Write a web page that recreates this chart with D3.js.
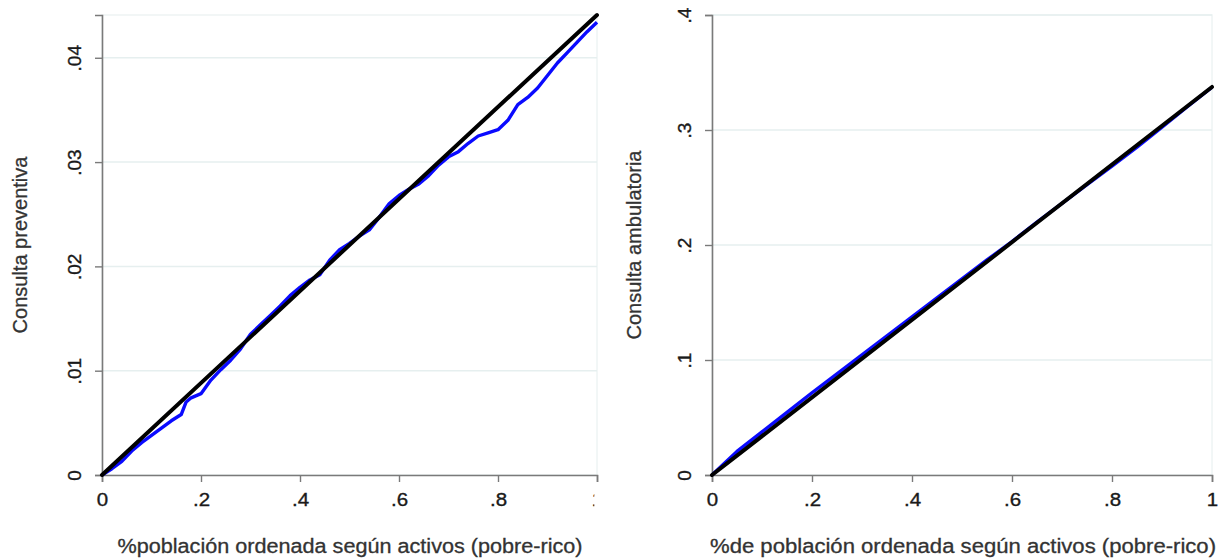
<!DOCTYPE html>
<html>
<head>
<meta charset="utf-8">
<script src="https://cdn.jsdelivr.net/npm/d3@7"></script>
<style>
  body { margin: 0; background: #fff; }
  svg { display: block; font-family: "Liberation Sans", Arial, sans-serif; }
</style>
</head>
<body>
<script>
const width = 1227;
const height = 560;

// population share (x) and cumulative values (blue curves)
const xLeft = [0, 0.02, 0.04, 0.06, 0.08, 0.10, 0.12, 0.14, 0.16, 0.17, 0.18, 0.20, 0.22, 0.24, 0.26, 0.28,
  0.30, 0.32, 0.34, 0.36, 0.38, 0.40, 0.42, 0.44, 0.46, 0.48, 0.50, 0.52, 0.54, 0.56, 0.58, 0.60,
  0.62, 0.64, 0.66, 0.68, 0.70, 0.72, 0.74, 0.76, 0.78, 0.80, 0.82, 0.84, 0.86, 0.88, 0.90, 0.92,
  0.94, 0.96, 0.98, 1.00];
const preventiva = [0, 0.0006, 0.0013, 0.0023, 0.0031, 0.0038, 0.0045, 0.0052, 0.0058, 0.0070, 0.0074, 0.0078,
  0.0091, 0.0101, 0.0110, 0.0121, 0.0135, 0.0144, 0.0153, 0.0162, 0.0172, 0.0180, 0.0187, 0.0192,
  0.0206, 0.0216, 0.0222, 0.0229, 0.0235, 0.0247, 0.0260, 0.0268, 0.0274, 0.0279, 0.0287, 0.0297,
  0.0305, 0.0310, 0.0318, 0.0325, 0.0328, 0.0331, 0.0340, 0.0355, 0.0362, 0.0371, 0.0383, 0.0395,
  0.0405, 0.0415, 0.0425, 0.0434];
const preventivaMax = 0.0441;

const xRight = [0, 0.05, 0.10, 0.15, 0.20, 0.25, 0.30, 0.35, 0.40, 0.45, 0.50, 0.55, 0.60, 0.65, 0.70,
  0.75, 0.80, 0.85, 0.90, 0.95, 1.00];
const ambulatoria = [0, 0.0205, 0.0375, 0.0545, 0.0715, 0.0880, 0.1045, 0.1210, 0.1375, 0.1540, 0.1705,
  0.1870, 0.2030, 0.2200, 0.2362, 0.2525, 0.2685, 0.2850, 0.3025, 0.3200, 0.3372];
const ambulatoriaMax = 0.3374;

const xTicks = [0, 0.2, 0.4, 0.6, 0.8, 1];
const yTicksLeft = [0, 0.01, 0.02, 0.03, 0.04];
const yTicksRight = [0, 0.1, 0.2, 0.3, 0.4];

const fmt = d => d === 0 ? "0" : d === 1 ? "1" : String(d).replace(/^0/, "");

const svg = d3.select("body").append("svg")
  .attr("width", width)
  .attr("height", height);

const panels = [
  { x0: 102, x1: 597, yTop: 0.0441, yTicks: yTicksLeft, xs: xLeft, ys: preventiva, max: preventivaMax,
    ytitle: "Consulta preventiva", xtitle: "%población ordenada según activos (pobre-rico)",
    ytitleX: 20, xtitleX: 350, xtitleLen: 465, clip: true },
  { x0: 712, x1: 1212, yTop: 0.4, yTicks: yTicksRight, xs: xRight, ys: ambulatoria, max: ambulatoriaMax,
    ytitle: "Consulta ambulatoria", xtitle: "%de población ordenada según activos (pobre-rico)",
    ytitleX: 634, xtitleX: 963, xtitleLen: 506, clip: false }
];

const plotTop = 15, plotBottom = 475;

// the "1" of the left panel is cut by the picture edge
svg.append("clipPath").attr("id", "cut")
  .append("rect").attr("x", -30).attr("y", -10).attr("width", 27).attr("height", 60);

panels.forEach(p => {
  const x = d3.scaleLinear().domain([0, 1]).range([p.x0, p.x1]);
  const y = d3.scaleLinear().domain([0, p.yTop]).range([plotBottom, plotTop]);
  const g = svg.append("g");

  // plot region outline + grid
  g.append("rect")
    .attr("x", p.x0).attr("y", plotTop)
    .attr("width", p.x1 - p.x0).attr("height", plotBottom - plotTop)
    .attr("fill", "none").attr("stroke", "#eef4f4").attr("stroke-width", 1.5);
  g.append("g").selectAll("line")
    .data(p.yTicks.filter(d => d > 0))
    .join("line")
    .attr("x1", p.x0).attr("x2", p.x1)
    .attr("y1", d => y(d)).attr("y2", d => y(d))
    .attr("stroke", "#e6efef").attr("stroke-width", 1.5);

  // axes
  const xa = g.append("g")
    .attr("transform", `translate(0,${plotBottom})`)
    .call(d3.axisBottom(x).tickValues(xTicks).tickFormat(fmt).tickSize(7).tickSizeOuter(7).tickPadding(6));
  const ya = g.append("g")
    .attr("transform", `translate(${p.x0},0)`)
    .call(d3.axisLeft(y).tickValues(p.yTicks).tickFormat(fmt).tickSize(7).tickSizeOuter(7));
  [xa, ya].forEach(a => {
    a.select(".domain").attr("stroke", "#7a7a7a").attr("stroke-width", 1.6);
    a.selectAll(".tick line").attr("stroke", "#7a7a7a").attr("stroke-width", 1.4);
    a.selectAll("text").attr("fill", "#1a1a1a").attr("font-size", 19)
      .attr("stroke", "#1a1a1a").attr("stroke-width", 0.35);
  });
  ya.selectAll(".tick text")
    .attr("text-anchor", "middle")
    .attr("dy", null)
    .attr("x", 0).attr("y", 0)
    .attr("transform", "translate(-28,0) rotate(-90)")
    .attr("dominant-baseline", "central");
  xa.selectAll(".tick text").attr("dy", "0.95em")
    .attr("transform", "scale(1.08,1)");
  if (p.clip) {
    xa.selectAll(".tick").filter(d => d === 1).select("text").attr("clip-path", "url(#cut)");
  }

  // curves
  const pts = p.xs.map((v, k) => [v, p.ys[k]]);
  const line = d3.line().x(d => x(d[0])).y(d => y(d[1]));
  g.append("path")
    .datum(pts)
    .attr("d", line)
    .attr("fill", "none").attr("stroke", "#0a0aff").attr("stroke-width", 3.4)
    .attr("stroke-linejoin", "round");
  g.append("path")
    .datum([[0, 0], [1, p.max]])
    .attr("d", line)
    .attr("fill", "none").attr("stroke", "#000").attr("stroke-width", 4)
    .attr("stroke-linecap", "round");

  // titles
  g.append("text")
    .attr("x", p.xtitleX).attr("y", 546)
    .attr("text-anchor", "middle").attr("dominant-baseline", "central")
    .attr("textLength", p.xtitleLen).attr("lengthAdjust", "spacingAndGlyphs")
    .attr("font-size", 20).attr("fill", "#333")
    .attr("stroke", "#333").attr("stroke-width", 0.3)
    .text(p.xtitle);
  g.append("text")
    .attr("transform", `translate(${p.ytitleX},${(plotTop + plotBottom) / 2}) rotate(-90)`)
    .attr("text-anchor", "middle").attr("dominant-baseline", "central")
    .attr("font-size", 20).attr("fill", "#333")
    .attr("stroke", "#333").attr("stroke-width", 0.3)
    .text(p.ytitle);
});
</script>
</body>
</html>
